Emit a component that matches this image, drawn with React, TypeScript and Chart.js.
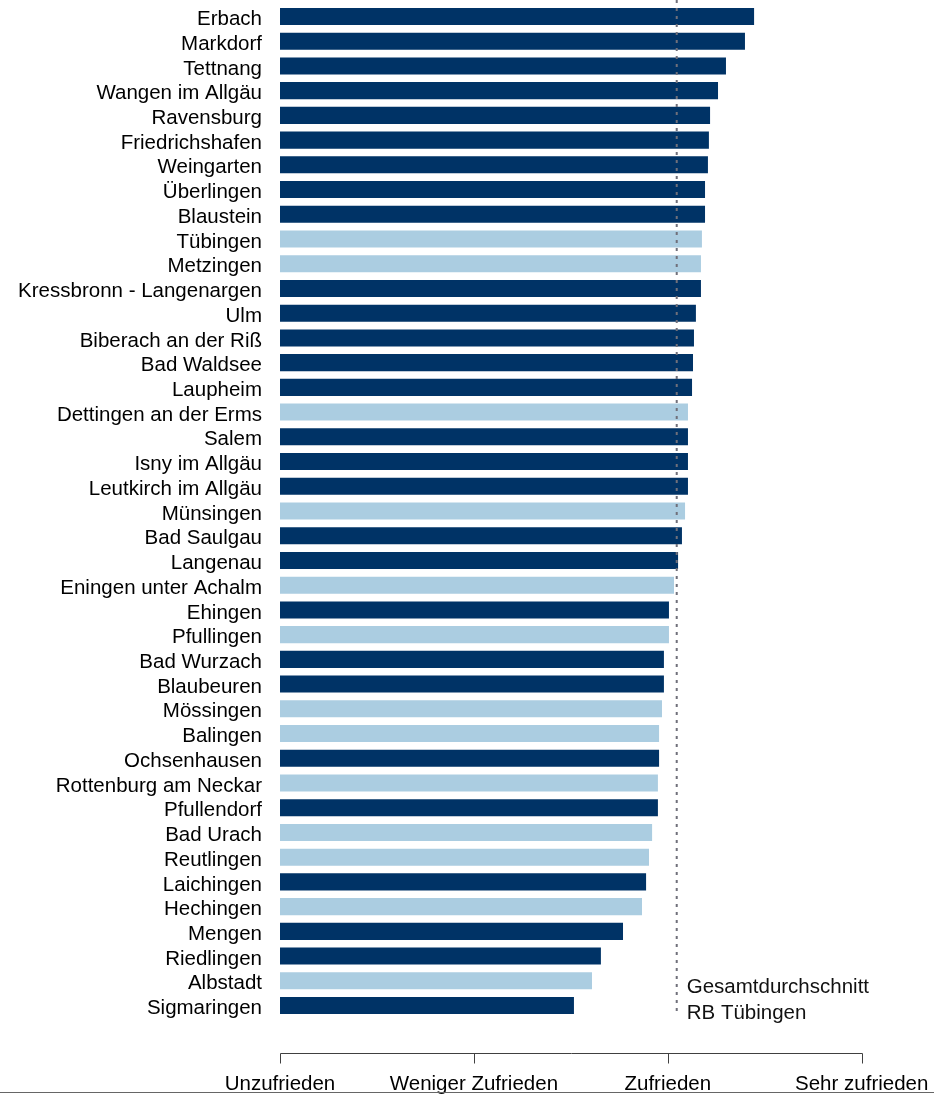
import React, { useEffect, useRef } from "react";
import { Chart, registerables } from "chart.js";

Chart.register(...registerables);

const categories = [
  "Erbach", "Markdorf", "Tettnang", "Wangen im Allgäu", "Ravensburg", "Friedrichshafen",
  "Weingarten", "Überlingen", "Blaustein", "Tübingen", "Metzingen", "Kressbronn - Langenargen",
  "Ulm", "Biberach an der Riß", "Bad Waldsee", "Laupheim", "Dettingen an der Erms", "Salem",
  "Isny im Allgäu", "Leutkirch im Allgäu", "Münsingen", "Bad Saulgau", "Langenau",
  "Eningen unter Achalm", "Ehingen", "Pfullingen", "Bad Wurzach", "Blaubeuren", "Mössingen",
  "Balingen", "Ochsenhausen", "Rottenburg am Neckar", "Pfullendorf", "Bad Urach", "Reutlingen",
  "Laichingen", "Hechingen", "Mengen", "Riedlingen", "Albstadt", "Sigmaringen",
];

const values = [
  3.445, 3.398, 3.300, 3.259, 3.218, 3.212,
  3.207, 3.192, 3.192, 3.176, 3.171, 3.171,
  3.145, 3.135, 3.130, 3.125, 3.104, 3.104,
  3.104, 3.104, 3.089, 3.073, 3.053,
  3.032, 3.006, 3.006, 2.980, 2.980, 2.970,
  2.955, 2.955, 2.949, 2.949, 2.919, 2.903,
  2.888, 2.867, 2.769, 2.655, 2.609, 2.516,
];

const highlighted = [
  "Tübingen", "Metzingen", "Dettingen an der Erms", "Münsingen", "Eningen unter Achalm",
  "Pfullingen", "Mössingen", "Balingen", "Rottenburg am Neckar", "Bad Urach", "Reutlingen",
  "Hechingen", "Albstadt",
];

const xTickLabels = ["Unzufrieden", "Weniger Zufrieden", "Zufrieden", "Sehr zufrieden"];

const averageValue = 3.046;
const averageLabel = ["Gesamtdurchschnitt", "RB Tübingen"];

const DARK = "#003366";
const LIGHT = "#ABCDE1";
const FONT = "'Liberation Sans', Arial, sans-serif";
const FONT_SIZE = 20.5;

function zeroPadding(scale: any) {
  scale.paddingLeft = 0;
  scale.paddingRight = 0;
  scale.paddingTop = 0;
  scale.paddingBottom = 0;
}

export default function App() {
  const canvasRef = useRef<HTMLCanvasElement | null>(null);

  useEffect(() => {
    if (!canvasRef.current) return;

    const overlay = {
      id: "overlay",
      afterDraw(chart: any) {
        const ctx = chart.ctx;
        const xs = chart.scales.x;
        const area = chart.chartArea;
        ctx.save();
        // axis line + ticks
        const axisY = Math.round(area.bottom + 35) + 0.5;
        ctx.strokeStyle = "#404040";
        ctx.lineWidth = 1;
        ctx.beginPath();
        const x1 = Math.round(xs.getPixelForValue(1)) + 0.5;
        const x4 = Math.round(xs.getPixelForValue(4)) + 0.5;
        ctx.moveTo(x1, axisY);
        ctx.lineTo(x4, axisY);
        for (let v = 1; v <= 4; v++) {
          const px = Math.round(xs.getPixelForValue(v)) + 0.5;
          ctx.moveTo(px, axisY);
          ctx.lineTo(px, axisY + 10);
        }
        ctx.stroke();
        // bottom border line
        ctx.strokeStyle = "#666666";
        ctx.beginPath();
        ctx.moveTo(0, 1092.5);
        ctx.lineTo(chart.width, 1092.5);
        ctx.stroke();
        // average dashed line
        const ax = xs.getPixelForValue(averageValue);
        ctx.strokeStyle = "#70707a";
        ctx.lineWidth = 2;
        ctx.setLineDash([3, 5]);
        ctx.beginPath();
        ctx.moveTo(ax, 0);
        ctx.lineTo(ax, area.bottom - 3);
        ctx.stroke();
        ctx.setLineDash([]);
        // label
        ctx.fillStyle = "#111111";
        ctx.font = `${FONT_SIZE}px ${FONT}`;
        ctx.textAlign = "left";
        ctx.textBaseline = "alphabetic";
        ctx.fillText(averageLabel[0], ax + 10, 993);
        ctx.fillText(averageLabel[1], ax + 10, 1018.5);
        ctx.restore();
      },
    };

    const chart = new Chart(canvasRef.current, {
      type: "bar",
      data: {
        labels: categories,
        datasets: [
          {
            data: values,
            base: 1,
            backgroundColor: categories.map((c) => (highlighted.includes(c) ? LIGHT : DARK)),
            categoryPercentage: 1,
            barPercentage: 0.69,
            borderWidth: 0,
          } as any,
        ],
      },
      options: {
        indexAxis: "y",
        animation: false,
        responsive: true,
        maintainAspectRatio: false,
        layout: {
          autoPadding: false,
          padding: { top: 4.1, right: 72.3, bottom: 0, left: 0 },
        } as any,
        plugins: {
          legend: { display: false },
          tooltip: { enabled: false },
        },
        scales: {
          x: {
            type: "linear",
            min: 1,
            max: 4,
            grid: { display: false, drawTicks: false },
            border: { display: false },
            ticks: {
              stepSize: 1,
              padding: 54,
              color: "#000000",
              font: { family: FONT, size: FONT_SIZE },
              callback: (v: any) => xTickLabels[Number(v) - 1] ?? "",
              maxRotation: 0,
              autoSkip: false,
            },
            afterFit: (scale: any) => {
              scale.height = 80.1;
              zeroPadding(scale);
            },
          },
          y: {
            type: "category",
            offset: true,
            grid: { display: false, drawTicks: false },
            border: { display: false },
            ticks: {
              padding: 18,
              autoSkip: false,
              labelOffset: 3,
              color: "#000000",
              font: { family: FONT, size: FONT_SIZE },
            },
            afterFit: (scale: any) => {
              scale.width = 280;
              zeroPadding(scale);
            },
          },
        },
      },
      plugins: [overlay],
    });

    return () => chart.destroy();
  }, []);

  return (
    <div style={{ position: "absolute", left: 0, top: 0, width: 934, height: 1098 }}>
      <canvas ref={canvasRef} />
    </div>
  );
}
